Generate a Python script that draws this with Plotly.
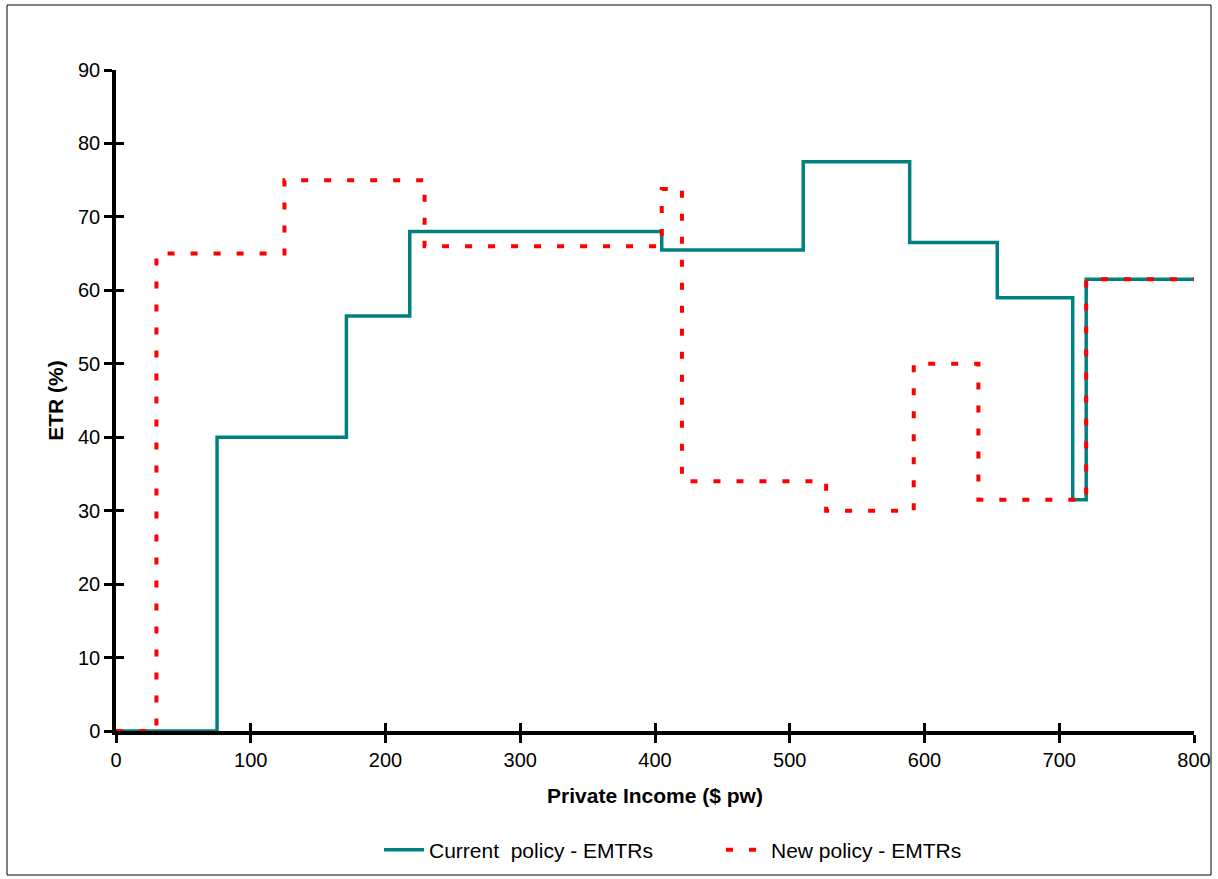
import plotly.graph_objects as go

# Current policy EMTRs: step breakpoints (income $ pw) and rates (%)
current_x = [0, 75, 171, 218, 405, 510, 589, 654, 710, 720, 800]
current_y = [0, 40, 56.5, 68, 65.5, 77.5, 66.5, 59, 31.5, 61.5, 61.5]

# New policy EMTRs
new_x = [0, 30, 125, 229, 405, 420, 527, 592, 640, 720, 800]
new_y = [0, 65, 75, 66, 73.8, 34, 30, 50, 31.5, 61.5, 61.5]

x_ticks = [0, 100, 200, 300, 400, 500, 600, 700, 800]
y_ticks = [0, 10, 20, 30, 40, 50, 60, 70, 80, 90]

FONT = "Liberation Sans, Arial, sans-serif"

W, H = 1218, 879
L, T = 116, 70
PW, PH = 1078, 661

fig = go.Figure()
fig.add_trace(go.Scatter(
    x=current_x, y=current_y, mode="lines", line_shape="hv",
    name="Current\u00a0\u00a0policy - EMTRs",
    line=dict(color="#008080", width=3.5),
))
fig.add_trace(go.Scatter(
    x=new_x, y=new_y, mode="lines", line_shape="hv",
    name="New policy - EMTRs",
    line=dict(color="#FF0000", width=4, dash="7px,16px"),
))
# invisible trace on overlay axes (for crossing ticks)
fig.add_trace(go.Scatter(x=[0], y=[0], xaxis="x2", yaxis="y2", mode="markers",
                         marker=dict(opacity=0), showlegend=False, hoverinfo="skip"))

axis_common = dict(showgrid=False, zeroline=False, ticklen=8, tickwidth=3, tickcolor="black",
                   automargin=False)

fig.update_layout(
    width=W, height=H,
    margin=dict(l=L, r=W - L - PW, t=T, b=H - T - PH, autoexpand=False),
    paper_bgcolor="white", plot_bgcolor="white",
    font=dict(family=FONT, size=20, color="black"),
    xaxis=dict(range=[0, 800], tickvals=x_ticks, ticks="outside",
               showline=True, linecolor="black", linewidth=3.5,
               title=dict(text="<b>Private Income ($ pw)</b>", font=dict(size=21), standoff=20),
               tickfont=dict(size=20), **axis_common),
    yaxis=dict(range=[0, 90], tickvals=y_ticks, ticks="outside",
               showline=True, linecolor="black", linewidth=3.5,
               title=dict(text="<b>ETR (%)</b>", font=dict(size=21), standoff=10),
               tickfont=dict(size=20), **axis_common),
    xaxis2=dict(range=[0, 800], tickvals=x_ticks, ticks="inside", overlaying="x",
                anchor="y2", side="bottom", showticklabels=False, showline=False, **axis_common),
    yaxis2=dict(range=[0, 90], tickvals=y_ticks, ticks="inside", overlaying="y",
                anchor="x2", side="left", showticklabels=False, showline=False, **axis_common),
    legend=dict(orientation="h", x=(379 - L) / PW, xanchor="left",
                y=(731 - 850) / PH, yanchor="middle",
                font=dict(size=21), itemwidth=40, entrywidth=287, bgcolor="rgba(0,0,0,0)"),
    shapes=[dict(type="rect", xref="paper", yref="paper",
                 x0=(7 - L) / PW, x1=(1211 - L) / PW,
                 y0=(731 - 875) / PH, y1=(731 - 5) / PH,
                 line=dict(color="black", width=1), layer="below")],
)

fig.write_html("out.html", config={"displayModeBar": False},
               post_script="document.body.style.margin='0';document.body.style.overflow='hidden';")
